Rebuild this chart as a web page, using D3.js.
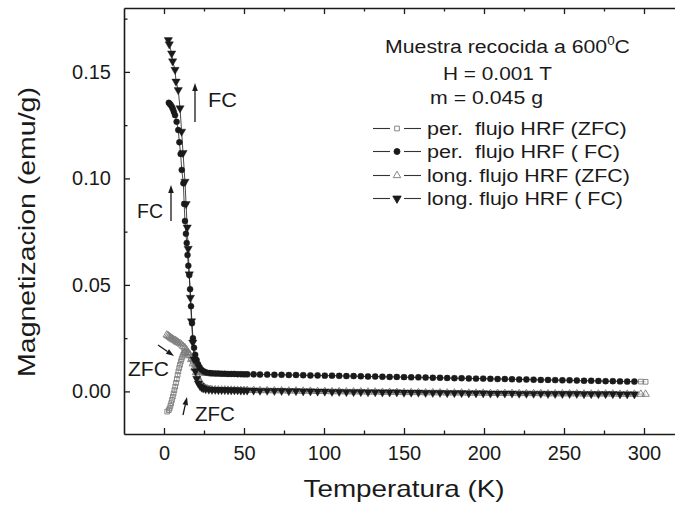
<!DOCTYPE html>
<html><head><meta charset="utf-8">
<script src="https://cdn.jsdelivr.net/npm/d3@7/dist/d3.min.js"></script>
<style>
body{margin:0;background:#fff}
text{font-family:Arial,"Liberation Sans",sans-serif;fill:#1a1a1a}
</style>
</head><body>
<svg id="c" width="675" height="510"></svg>
<script>
// ---------------- DATA ----------------
const xMajor = [0, 50, 100, 150, 200, 250, 300];
const xMinor = [25, 75, 125, 175, 225, 275];
const yMajor = [0, 0.05, 0.10, 0.15];
const yMinor = [0.025, 0.075, 0.125, 0.175];

const legendLabels = ["per.  flujo HRF (ZFC)", "per.  flujo HRF ( FC)", "long. flujo HRF (ZFC)", "long. flujo HRF ( FC)"];

// shared temperature grids (K)
const tMid = [32, 34, 36, 38, 40, 42, 44, 46, 48, 50];
const tHigh = [52, 56, 60, 64.5, 69, 73.5, 78, 82.5, 87, 91.5, 96, 100.5, 105, 109.5, 114, 118.5, 123, 127.5, 132, 136.5,
  141, 145.5, 150, 154.5, 159, 163.5, 168, 172.5, 177, 181.5, 186, 190.5, 195, 199.5, 204, 208.5, 213, 217.5, 222, 226.5,
  231, 235.5, 240, 244.5, 249, 253.5, 258, 262.5, 267, 271.5, 276, 280.5, 285, 289.5, 294];
const tZfcEnd = [298, 301];

// per. flujo HRF (ZFC) — open squares
const perZfcT = [2, 3, 3.5, 4, 4.5, 5, 5.5, 6, 6.5, 7, 7.5, 8, 8.5, 9, 9.5, 10, 10.5, 11, 11.5, 12, 12.5, 13, 14, 15, 16,
  17, 18, 19, 20, 21, 22, 23, 24, 25, 26, 27, 28, 29, 30];
const perZfcM = [-0.0095, -0.0088, -0.0080, -0.0068, -0.0055, -0.0040, -0.0025, -0.0010, 0.0006, 0.0022, 0.0040, 0.0058,
  0.0077, 0.0094, 0.0110, 0.0125, 0.0140, 0.0152, 0.0163, 0.0172, 0.0180, 0.0185, 0.0186, 0.0180, 0.0170, 0.0156, 0.0140,
  0.0125, 0.0112, 0.0102, 0.0095, 0.0091, 0.0088, 0.0087, 0.0086, 0.0086, 0.0085, 0.0085, 0.0084];
const perZfcMid = [0.0084, 0.0083, 0.0083, 0.0082, 0.0082, 0.0082, 0.0081, 0.0081, 0.0081, 0.0080];
const perZfcHigh = [0.0080, 0.0080, 0.0079, 0.0079, 0.0078, 0.0078, 0.0077, 0.0077, 0.0076, 0.0075, 0.0075, 0.0074, 0.0074,
  0.0073, 0.0072, 0.0072, 0.0071, 0.0070, 0.0070, 0.0069, 0.0068, 0.0068, 0.0067, 0.0066, 0.0066, 0.0065, 0.0064, 0.0064,
  0.0063, 0.0062, 0.0062, 0.0061, 0.0060, 0.0060, 0.0059, 0.0058, 0.0058, 0.0057, 0.0056, 0.0056, 0.0055, 0.0054, 0.0054,
  0.0053, 0.0052, 0.0052, 0.0051, 0.0050, 0.0050, 0.0049, 0.0048, 0.0048, 0.0047, 0.0046, 0.0046, 0.0046, 0.0045];

// per. flujo HRF (FC) — filled circles
const perFcT = [3, 3.6, 4.2, 5, 5.6, 6.2, 6.9, 7.9, 8.9, 9.6, 10.4, 11.1, 12.1, 12.6, 13.1, 13.7, 14.2, 14.7, 15.2, 15.8,
  16.3, 16.9, 17.5, 18.1, 18.8, 19.5, 20.4, 21.3, 22.3, 23.6, 25, 26.5, 28.5, 30];
const perFcM = [0.1355, 0.1350, 0.1345, 0.1335, 0.1325, 0.1312, 0.1297, 0.1266, 0.1227, 0.1170, 0.1115, 0.1040, 0.0977,
  0.0880, 0.0800, 0.0740, 0.0697, 0.0640, 0.0590, 0.0546, 0.0480, 0.0400, 0.0320, 0.0250, 0.0205, 0.0172, 0.0147, 0.0128,
  0.0113, 0.0100, 0.0093, 0.0089, 0.0086, 0.0085];
const perFcMid = [0.0084, 0.0084, 0.0083, 0.0083, 0.0082, 0.0082, 0.0082, 0.0081, 0.0081, 0.0080];
const perFcHigh = [0.0080, 0.0080, 0.0079, 0.0079, 0.0078, 0.0078, 0.0077, 0.0077, 0.0076, 0.0075, 0.0075, 0.0074, 0.0074,
  0.0073, 0.0072, 0.0072, 0.0071, 0.0070, 0.0070, 0.0069, 0.0068, 0.0068, 0.0067, 0.0066, 0.0066, 0.0065, 0.0064, 0.0064,
  0.0063, 0.0062, 0.0062, 0.0061, 0.0060, 0.0060, 0.0059, 0.0058, 0.0058, 0.0057, 0.0056, 0.0056, 0.0055, 0.0054, 0.0054,
  0.0053, 0.0052, 0.0052, 0.0051, 0.0050, 0.0050, 0.0049, 0.0048, 0.0048, 0.0047, 0.0046, 0.0046];

// long. flujo HRF (ZFC) — open triangles
const longZfcT = [1.7, 2.5, 3.2, 3.9, 4.6, 5.3, 6, 6.9, 7.6, 8.3, 9, 10, 11, 12, 13, 14, 15, 16, 17, 18, 19, 20, 21, 22,
  23, 24, 25, 26, 27, 28, 29, 30];
const longZfcM = [0.0265, 0.0262, 0.0258, 0.0254, 0.0250, 0.0246, 0.0243, 0.0240, 0.0236, 0.0232, 0.0229, 0.0225, 0.0219,
  0.0212, 0.0205, 0.0196, 0.0183, 0.0168, 0.0150, 0.0130, 0.0110, 0.0089, 0.0069, 0.0052, 0.0038, 0.0028, 0.0020, 0.0015,
  0.0012, 0.0010, 0.0009, 0.0008];
const longZfcMid = [0.0008, 0.0007, 0.0007, 0.0007, 0.0006, 0.0006, 0.0006, 0.0005, 0.0005, 0.0005];
const longZfcHigh = [0.0005, 0.0005, 0.0004, 0.0004, 0.0003, 0.0003, 0.0002, 0.0002, 0.0001, 0.0001, 0.0000, 0.0000,
  -0.0001, -0.0001, -0.0002, -0.0002, -0.0002, -0.0003, -0.0003, -0.0004, -0.0004, -0.0004, -0.0005, -0.0005, -0.0005,
  -0.0006, -0.0006, -0.0006, -0.0007, -0.0007, -0.0007, -0.0008, -0.0008, -0.0008, -0.0009, -0.0009, -0.0009, -0.0009,
  -0.0010, -0.0010, -0.0010, -0.0010, -0.0011, -0.0011, -0.0011, -0.0011, -0.0011, -0.0012, -0.0012, -0.0012, -0.0012,
  -0.0012, -0.0013, -0.0013, -0.0013, -0.0013, -0.0013];

// long. flujo HRF (FC) — filled down triangles
const longFcT = [2.7, 3.3, 4.8, 5.4, 6.9, 7.5, 8.9, 10, 11, 11.9, 13.1, 13.8, 14.5, 15.1, 15.8, 16.5, 17.2, 18, 18.8,
  19.6, 20.5, 21.5, 22.5, 23.5, 24.5, 26, 28, 30];
const longFcM = [0.1650, 0.1630, 0.1587, 0.1550, 0.1510, 0.1455, 0.1415, 0.1330, 0.1220, 0.1120, 0.0985, 0.0880, 0.0770,
  0.0670, 0.0550, 0.0440, 0.0330, 0.0230, 0.0150, 0.0095, 0.0060, 0.0038, 0.0026, 0.0019, 0.0015, 0.0011, 0.0009, 0.0008];
const longFcMid = [0.0008, 0.0007, 0.0007, 0.0007, 0.0006, 0.0006, 0.0006, 0.0006, 0.0005, 0.0005];
const longFcHigh = [0.0005, 0.0005, 0.0004, 0.0004, 0.0003, 0.0003, 0.0002, 0.0002, 0.0001, 0.0001, 0.0000, 0.0000,
  -0.0001, -0.0001, -0.0002, -0.0002, -0.0002, -0.0003, -0.0003, -0.0004, -0.0004, -0.0004, -0.0005, -0.0005, -0.0005,
  -0.0006, -0.0006, -0.0006, -0.0007, -0.0007, -0.0007, -0.0008, -0.0008, -0.0008, -0.0009, -0.0009, -0.0009, -0.0009,
  -0.0010, -0.0010, -0.0010, -0.0010, -0.0011, -0.0011, -0.0011, -0.0011, -0.0011, -0.0012, -0.0012, -0.0012, -0.0012,
  -0.0012, -0.0013, -0.0013, -0.0013];

// ---------------- CHART ----------------
const svg = d3.select("#c");
svg.append("rect").attr("width", 675).attr("height", 510).attr("fill", "#fff");
const x = d3.scaleLinear().domain([-25, 325]).range([124, 684]);
const y = d3.scaleLinear().domain([-0.02, 0.18]).range([434, 8]);
const INK = "#1a1a1a", GREY = "#7a7a7a";

function build(Tlow, Mlow, Mmid, Mhigh, extraT) {
  const T = Tlow.concat(tMid, tHigh, extraT || []);
  const M = Mlow.concat(Mmid, Mhigh);
  return T.map((t, i) => ({t, m: M[i]}));
}
const series = [
  {label: legendLabels[0], data: build(perZfcT, perZfcM, perZfcMid, perZfcHigh, tZfcEnd), sym: d3.symbolSquare, size: 22, rot: 0, filled: false},
  {label: legendLabels[2], data: build(longZfcT, longZfcM, longZfcMid, longZfcHigh, tZfcEnd), sym: d3.symbolTriangle, size: 24, rot: 0, filled: false},
  {label: legendLabels[1], data: build(perFcT, perFcM, perFcMid, perFcHigh), sym: d3.symbolCircle, size: 28, rot: 0, filled: true},
  {label: legendLabels[3], data: build(longFcT, longFcM, longFcMid, longFcHigh), sym: d3.symbolTriangle, size: 30, rot: 180, filled: true}
];

const line = d3.line().x(d => x(d.t)).y(d => y(d.m));
const plot = svg.append("g");
series.forEach(s => {
  plot.append("path").datum(s.data).attr("d", line).attr("fill", "none")
    .attr("stroke", s.filled ? INK : "#999").attr("stroke-width", 0.8);
});
series.forEach(s => {
  const sym = d3.symbol().type(s.sym).size(s.size);
  plot.append("g").selectAll("path").data(s.data).join("path")
    .attr("d", sym)
    .attr("transform", d => `translate(${x(d.t)},${y(d.m)}) rotate(${s.rot})`)
    .attr("fill", s.filled ? INK : "none")
    .attr("stroke", s.filled ? INK : GREY)
    .attr("stroke-width", s.filled ? 0.4 : 0.9);
});

// ---------------- AXES ----------------
function styleAxis(g) {
  g.select(".domain").attr("stroke", INK).attr("stroke-width", 1.6);
  g.selectAll(".tick line").attr("stroke", INK).attr("stroke-width", 1.3);
  g.selectAll(".tick text").attr("fill", INK).style("font-family", "Arial, 'Liberation Sans', sans-serif").style("font-size", "20px");
}
const gx = svg.append("g").attr("transform", "translate(0,434)")
  .call(d3.axisBottom(x).tickValues(xMajor).tickSize(-6).tickSizeOuter(0).tickPadding(12).tickFormat(d3.format("d")));
styleAxis(gx);
const gxm = svg.append("g").attr("transform", "translate(0,434)")
  .call(d3.axisBottom(x).tickValues(xMinor).tickSize(-3.5).tickSizeOuter(0).tickFormat(""));
styleAxis(gxm); gxm.select(".domain").remove();

const gt = svg.append("g").attr("transform", "translate(0,8)")
  .call(d3.axisTop(x).tickValues(xMajor).tickSize(-6).tickSizeOuter(0).tickFormat(""));
styleAxis(gt);
const gtm = svg.append("g").attr("transform", "translate(0,8)")
  .call(d3.axisTop(x).tickValues(xMinor).tickSize(-3.5).tickSizeOuter(0).tickFormat(""));
styleAxis(gtm); gtm.select(".domain").remove();

const gy = svg.append("g").attr("transform", "translate(124,0)")
  .call(d3.axisLeft(y).tickValues(yMajor).tickSize(-6).tickSizeOuter(0).tickPadding(13).tickFormat(d3.format(".2f")));
styleAxis(gy);
const gym = svg.append("g").attr("transform", "translate(124,0)")
  .call(d3.axisLeft(y).tickValues(yMinor).tickSize(-3.5).tickSizeOuter(0).tickFormat(""));
styleAxis(gym); gym.select(".domain").remove();

const gr = svg.append("g").attr("transform", `translate(${x(325)},0)`)
  .call(d3.axisRight(y).tickValues(yMajor).tickSize(-6).tickSizeOuter(0).tickFormat(""));
styleAxis(gr);

// ---------------- TEXT ----------------
function fitted(parent, px, py, str, size, width, anchor, rotate) {
  const t = parent.append("text").attr("font-size", size).attr("text-anchor", anchor || "middle")
    .style("white-space", "pre").text(str);
  const k = width / t.node().getComputedTextLength();
  t.attr("transform", `translate(${px},${py})${rotate ? " rotate(-90)" : ""} scale(${k},1)`);
  return t;
}
const ann = svg.append("g");
fitted(ann, 404, 497, "Temperatura (K)", 24, 201, "middle", false);
fitted(ann, 35, 232, "Magnetizacion (emu/g)", 24, 290, "middle", true);

// header with superscript
const h1 = ann.append("text").attr("font-size", 19).attr("text-anchor", "middle");
h1.append("tspan").text("Muestra recocida a 600");
h1.append("tspan").attr("font-size", 12).attr("dy", -8).text("0");
h1.append("tspan").attr("dy", 8).text("C");
{
  const k = 245 / h1.node().getComputedTextLength();
  h1.attr("transform", `translate(507.5,53) scale(${k},1)`);
}
fitted(ann, 497.5, 80, "H = 0.001 T", 19, 109, "middle");
fitted(ann, 486.5, 104, "m = 0.045 g", 19, 113, "middle");

// legend
const legOrder = [
  {s: series[0], w: 200}, {s: series[2], w: 193}, {s: series[1], w: 203}, {s: series[3], w: 196}
];
const legBase = [135, 158, 182, 205];
legOrder.forEach((o, i) => {
  const by = legBase[i], cy = by - 6.5;
  ann.append("line").attr("x1", 373).attr("x2", 390).attr("y1", cy).attr("y2", cy)
    .attr("stroke", "#333").attr("stroke-width", 1.1);
  ann.append("line").attr("x1", 404).attr("x2", 421).attr("y1", cy).attr("y2", cy)
    .attr("stroke", "#333").attr("stroke-width", 1.1);
  ann.append("path").attr("d", d3.symbol().type(o.s.sym).size(o.s.size)())
    .attr("transform", `translate(397,${cy}) rotate(${o.s.rot})`)
    .attr("fill", o.s.filled ? INK : "#fff").attr("stroke", o.s.filled ? INK : GREY).attr("stroke-width", 0.9);
  fitted(ann, 427, by, o.s.label, 19, o.w, "start");
});

// annotations
fitted(ann, 208, 107, "FC", 20, 29, "start");
fitted(ann, 137, 218, "FC", 20, 26, "start");
fitted(ann, 128, 376, "ZFC", 20, 41, "start");
fitted(ann, 195, 421, "ZFC", 20, 40, "start");

function arrow(x1, y1, x2, y2) {
  const a = Math.atan2(y2 - y1, x2 - x1), L = 8, W = 2.8;
  const bx = x2 - L * Math.cos(a), by = y2 - L * Math.sin(a);
  ann.append("line").attr("x1", x1).attr("y1", y1).attr("x2", bx).attr("y2", by)
    .attr("stroke", INK).attr("stroke-width", 1.3);
  ann.append("path").attr("d", `M${x2},${y2}L${bx - W * Math.sin(a)},${by + W * Math.cos(a)}L${bx + W * Math.sin(a)},${by - W * Math.cos(a)}Z`)
    .attr("fill", INK);
}
arrow(195, 122, 195, 83);
arrow(171, 221, 171, 185);
arrow(158, 345, 174, 356);
arrow(183, 415, 187, 397);
</script>
</body></html>
